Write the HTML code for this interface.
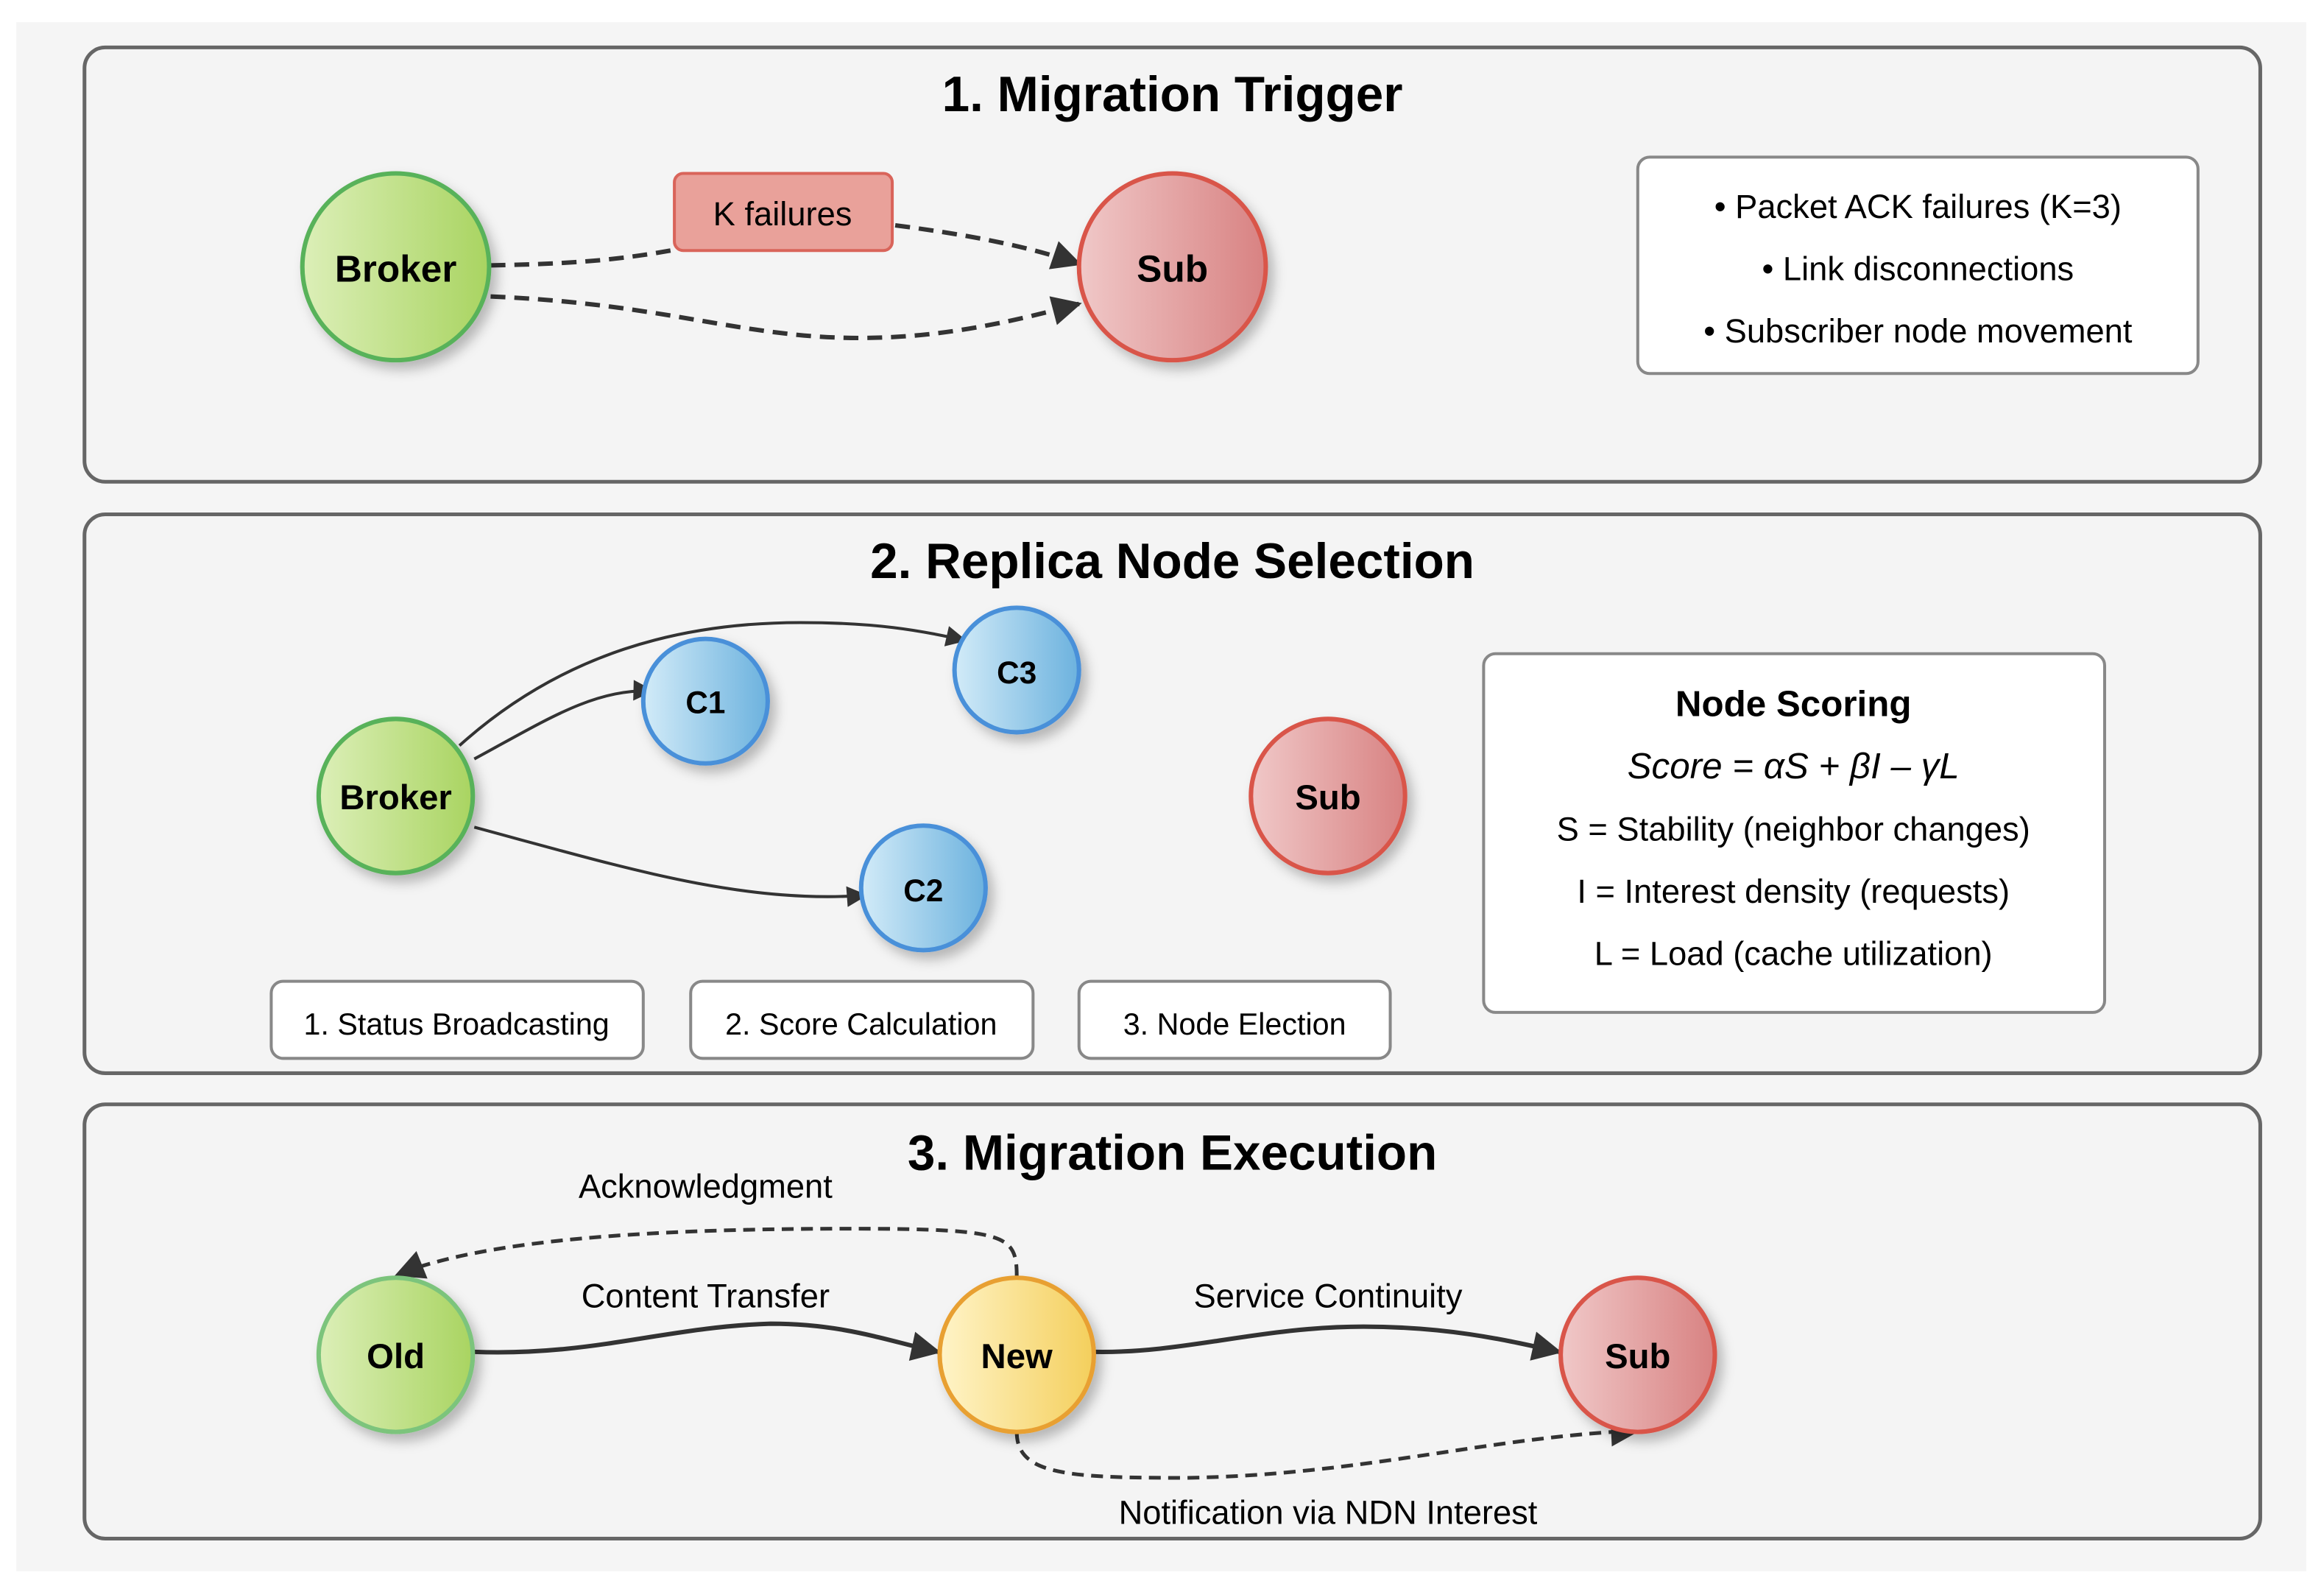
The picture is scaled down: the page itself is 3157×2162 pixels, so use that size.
<!DOCTYPE html>
<html><head><meta charset="utf-8"><style>
html,body{margin:0;padding:0;background:#fff;}
svg{display:block;}
text{font-family:"Liberation Sans",sans-serif;}
</style></head><body>
<svg width="3157" height="2162" viewBox="0 0 1568 1074" preserveAspectRatio="none" xmlns="http://www.w3.org/2000/svg">
<defs>
<linearGradient id="gG" x1="0" y1="0" x2="1" y2="0"><stop offset="0" stop-color="#dcefb8"/><stop offset="1" stop-color="#a9d461"/></linearGradient>
<linearGradient id="gR" x1="0" y1="0" x2="1" y2="0"><stop offset="0" stop-color="#f0c8c8"/><stop offset="1" stop-color="#d88282"/></linearGradient>
<linearGradient id="gB" x1="0" y1="0" x2="1" y2="0"><stop offset="0" stop-color="#d2ebf8"/><stop offset="1" stop-color="#6cb2de"/></linearGradient>
<linearGradient id="gY" x1="0" y1="0" x2="1" y2="0"><stop offset="0" stop-color="#fff4c8"/><stop offset="1" stop-color="#f4cf5c"/></linearGradient>
<filter id="sh" x="-30%" y="-30%" width="160%" height="160%"><feDropShadow dx="4" dy="5" stdDeviation="4" flood-color="#000" flood-opacity="0.25"/></filter>
<marker id="arL" viewBox="0 0 10 10" refX="9" refY="5" markerWidth="18" markerHeight="14" orient="auto" markerUnits="userSpaceOnUse"><path d="M0,0 L10,5 L0,10 z" fill="#333"/></marker>
<marker id="arX" viewBox="0 0 10 10" refX="9" refY="5" markerWidth="26" markerHeight="20" orient="auto" markerUnits="userSpaceOnUse"><path d="M0,0 L10,5 L0,10 z" fill="#333"/></marker>
</defs>
<rect x="11" y="15" width="1545" height="1045" fill="#f5f5f5"/>
<rect x="57" y="32" width="1468" height="293" rx="14" fill="#f4f4f4" stroke="#666" stroke-width="2.5"/>
<rect x="57" y="347" width="1468" height="377" rx="14" fill="#f4f4f4" stroke="#666" stroke-width="2.5"/>
<rect x="57" y="745" width="1468" height="293" rx="14" fill="#f4f4f4" stroke="#666" stroke-width="2.5"/>
<text x="791" y="75" font-size="33.5" font-weight="bold" text-anchor="middle">1. Migration Trigger</text>
<text x="791" y="390" font-size="33.5" font-weight="bold" text-anchor="middle">2. Replica Node Selection</text>
<text x="791" y="789" font-size="33.5" font-weight="bold" text-anchor="middle">3. Migration Execution</text>

<path d="M331,179 C390,178 420,175 458,168" fill="none" stroke="#333" stroke-width="3" stroke-dasharray="10,6"/>
<path d="M604,152 C650,158 690,165 728,178" fill="none" stroke="#333" stroke-width="3" stroke-dasharray="10,6" marker-end="url(#arX)"/>
<path d="M331,200 C450,205 500,228 580,228 C640,228 690,215 728,205" fill="none" stroke="#333" stroke-width="3" stroke-dasharray="10,6" marker-end="url(#arX)"/>
<rect x="455" y="117" width="147" height="52" rx="6" fill="#e9a19a" stroke="#d9645a" stroke-width="2"/>
<text x="528" y="152" font-size="22.5" text-anchor="middle">K failures</text>
<circle cx="267" cy="180" r="63" fill="url(#gG)" stroke="#58b25a" stroke-width="3" filter="url(#sh)"/>
<text x="267" y="190" font-size="25.5" font-weight="bold" text-anchor="middle">Broker</text>
<circle cx="791" cy="180" r="63" fill="url(#gR)" stroke="#d9544a" stroke-width="3" filter="url(#sh)"/>
<text x="791" y="190" font-size="25.5" font-weight="bold" text-anchor="middle">Sub</text>
<rect x="1105" y="106" width="378" height="146" rx="8" fill="#fff" stroke="#888" stroke-width="2"/>
<text x="1294" y="147" font-size="22.5" text-anchor="middle">• Packet ACK failures (K=3)</text>
<text x="1294" y="189" font-size="22.5" text-anchor="middle">• Link disconnections</text>
<text x="1294" y="231" font-size="22.5" text-anchor="middle">• Subscriber node movement</text>

<path d="M320,512 C370,485 400,465 440,466" fill="none" stroke="#333" stroke-width="2" marker-end="url(#arL)"/>
<path d="M310,503 C380,440 460,420 540,420 C590,420 620,425 651,432" fill="none" stroke="#333" stroke-width="2" marker-end="url(#arL)"/>
<path d="M320,558 C420,585 500,610 584,604" fill="none" stroke="#333" stroke-width="2" marker-end="url(#arL)"/>
<circle cx="267" cy="537" r="52" fill="url(#gG)" stroke="#58b25a" stroke-width="3" filter="url(#sh)"/>
<text x="267" y="546" font-size="23.5" font-weight="bold" text-anchor="middle">Broker</text>
<circle cx="476" cy="473" r="42" fill="url(#gB)" stroke="#4a90d9" stroke-width="3" filter="url(#sh)"/>
<text x="476" y="481" font-size="21" font-weight="bold" text-anchor="middle">C1</text>
<circle cx="686" cy="452" r="42" fill="url(#gB)" stroke="#4a90d9" stroke-width="3" filter="url(#sh)"/>
<text x="686" y="461" font-size="21" font-weight="bold" text-anchor="middle">C3</text>
<circle cx="623" cy="599" r="42" fill="url(#gB)" stroke="#4a90d9" stroke-width="3" filter="url(#sh)"/>
<text x="623" y="608" font-size="21" font-weight="bold" text-anchor="middle">C2</text>
<circle cx="896" cy="537" r="52" fill="url(#gR)" stroke="#d9544a" stroke-width="3" filter="url(#sh)"/>
<text x="896" y="546" font-size="23.5" font-weight="bold" text-anchor="middle">Sub</text>
<rect x="183" y="662" width="251" height="52" rx="8" fill="#fff" stroke="#888" stroke-width="2"/>
<text x="308" y="698" font-size="20.5" text-anchor="middle">1. Status Broadcasting</text>
<rect x="466" y="662" width="231" height="52" rx="8" fill="#fff" stroke="#888" stroke-width="2"/>
<text x="581" y="698" font-size="20.5" text-anchor="middle">2. Score Calculation</text>
<rect x="728" y="662" width="210" height="52" rx="8" fill="#fff" stroke="#888" stroke-width="2"/>
<text x="833" y="698" font-size="20.5" text-anchor="middle">3. Node Election</text>
<rect x="1001" y="441" width="419" height="242" rx="8" fill="#fff" stroke="#888" stroke-width="2"/>
<text x="1210" y="483" font-size="24.5" font-weight="bold" text-anchor="middle">Node Scoring</text>
<text x="1210" y="525" font-size="24.5" font-style="italic" text-anchor="middle">Score = αS + βI – γL</text>
<text x="1210" y="567" font-size="22.5" text-anchor="middle">S = Stability (neighbor changes)</text>
<text x="1210" y="609" font-size="22.5" text-anchor="middle">I = Interest density (requests)</text>
<text x="1210" y="651" font-size="22.5" text-anchor="middle">L = Load (cache utilization)</text>

<path d="M686,861 C686,835 680,830 600,829 C450,828 330,835 268,860" fill="none" stroke="#333" stroke-width="2.5" stroke-dasharray="8,5" marker-end="url(#arX)"/>
<path d="M320,912 C400,915 450,895 520,893 C570,893 600,905 633,912" fill="none" stroke="#333" stroke-width="3" marker-end="url(#arX)"/>
<path d="M739,912 C800,913 850,895 920,895 C980,895 1020,905 1052,912" fill="none" stroke="#333" stroke-width="3" marker-end="url(#arX)"/>
<path d="M686,966 C686,995 720,997 800,997 C920,995 1000,970 1105,965" fill="none" stroke="#333" stroke-width="2.5" stroke-dasharray="8,5" marker-end="url(#arX)"/>
<circle cx="267" cy="914" r="52" fill="url(#gG)" stroke="#7cc47c" stroke-width="3" filter="url(#sh)"/>
<text x="267" y="923" font-size="23.5" font-weight="bold" text-anchor="middle">Old</text>
<circle cx="686" cy="914" r="52" fill="url(#gY)" stroke="#e8a030" stroke-width="3" filter="url(#sh)"/>
<text x="686" y="923" font-size="23.5" font-weight="bold" text-anchor="middle">New</text>
<circle cx="1105" cy="914" r="52" fill="url(#gR)" stroke="#d9544a" stroke-width="3" filter="url(#sh)"/>
<text x="1105" y="923" font-size="23.5" font-weight="bold" text-anchor="middle">Sub</text>
<text x="476" y="808" font-size="22.5" text-anchor="middle">Acknowledgment</text>
<text x="476" y="882" font-size="22.5" text-anchor="middle">Content Transfer</text>
<text x="896" y="882" font-size="22.5" text-anchor="middle">Service Continuity</text>
<text x="896" y="1028" font-size="22.5" text-anchor="middle">Notification via NDN Interest</text>
</svg>
</body></html>
